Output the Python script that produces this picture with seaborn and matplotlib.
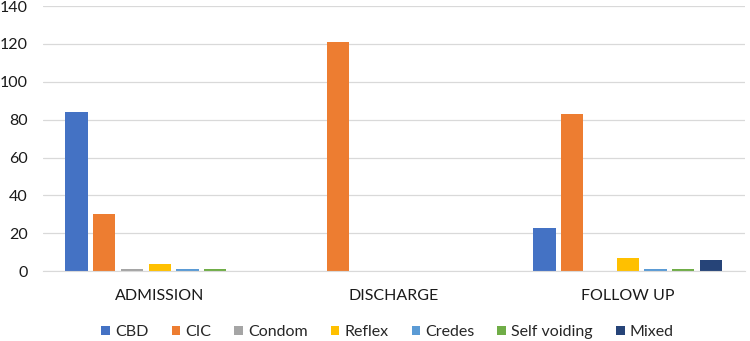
import pandas as pd
import seaborn as sns
import matplotlib.pyplot as plt

# Bladder management method by time point
stages = ["ADMISSION", "DISCHARGE", "FOLLOW UP"]
methods = ["CBD", "CIC", "Condom", "Reflex", "Credes", "Self voiding", "Mixed"]
admission = [84, 30, 1, 4, 1, 1, 0]
discharge = [0, 121, 0, 0, 0, 0, 0]
follow_up = [23, 83, 0, 7, 1, 1, 6]

colors = ["#4472C4", "#ED7D31", "#A5A5A5", "#FFC000", "#5B9BD5", "#70AD47", "#264478"]

rows = []
for stage, vals in zip(stages, [admission, discharge, follow_up]):
    for m, v in zip(methods, vals):
        rows.append({"stage": stage, "method": m, "count": v})
df = pd.DataFrame(rows)

sns.set_style("white")
plt.rcParams["font.family"] = ["Lato", "DejaVu Sans"]

fig = plt.figure(figsize=(7.5, 3.41), dpi=100)
ax = fig.add_axes([0.057, 0.205, 0.936, 0.777])

sns.barplot(data=df, x="stage", y="count", hue="method", hue_order=methods,
            order=stages, palette=colors, width=0.83, gap=0.2,
            saturation=1, ax=ax, linewidth=0)

ax.set_ylim(0, 140)
ax.set_yticks(range(0, 141, 20))
ax.yaxis.grid(True, color="#D9D9D9", linewidth=0.9)
ax.set_axisbelow(True)
for s in ["top", "right", "left"]:
    ax.spines[s].set_visible(False)
ax.spines["bottom"].set_color("#D9D9D9")
ax.tick_params(axis="both", length=0, labelsize=11.5, colors="#1a1a1a")
ax.tick_params(axis="x", pad=13)
ax.tick_params(axis="y", pad=11)
ax.set_xlabel("")
ax.set_ylabel("")

handles, labels = ax.get_legend_handles_labels()
ax.legend(handles, labels, loc="center", bbox_to_anchor=(0.491, -0.23),
          ncol=7, frameon=False, fontsize=11.5, handlelength=0.55,
          handleheight=0.55, handletextpad=0.3, columnspacing=1.45)

fig.savefig("out.png", dpi=100)
